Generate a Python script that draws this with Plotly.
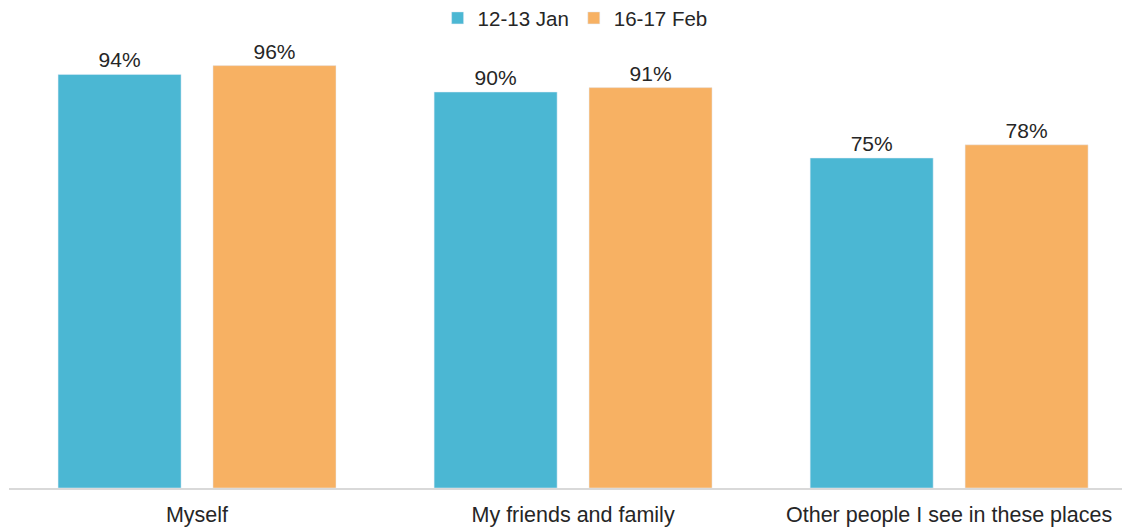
import plotly.graph_objects as go

categories = ["Myself", "My friends and family", "Other people I see in these places"]
jan_values = [94, 90, 75]
feb_values = [96, 91, 78]
series_names = ["12-13 Jan", "16-17 Feb"]

FS = 21
fig = go.Figure()
fig.add_trace(go.Bar(
    x=categories, y=jan_values, name=series_names[0],
    marker=dict(color="#4BB7D3"),
    text=[f"{v}%" for v in jan_values], textposition="outside",
    textfont=dict(size=FS, color="#262626"), cliponaxis=False,
))
fig.add_trace(go.Bar(
    x=categories, y=feb_values, name=series_names[1],
    marker=dict(color="#F7B163"),
    text=[f"{v}%" for v in feb_values], textposition="outside",
    textfont=dict(size=FS, color="#262626"), cliponaxis=False,
))

fig.update_layout(
    width=1122, height=519,
    margin=dict(l=1, r=0, t=40, b=39, autoexpand=False),
    paper_bgcolor="white", plot_bgcolor="white",
    font=dict(family="Liberation Sans, Arial, sans-serif", size=FS, color="#262626"),
    barmode="group", bargap=0.176, bargroupgap=0.206,
    showlegend=True,
    legend=dict(orientation="h", x=0.505, xanchor="center", y=1.068, yanchor="middle",
                font=dict(size=20.5, color="#262626"), itemwidth=30,
                bgcolor="rgba(0,0,0,0)"),
    xaxis=dict(range=[-0.5, 2.481], showline=True, linecolor="#D9D9D9", linewidth=1.5,
               ticks="", showgrid=False, tickfont=dict(size=21.5, color="#262626"),
               ticklabelstandoff=6),
    yaxis=dict(range=[0, 100], visible=False, showgrid=False, zeroline=False),
)

fig.write_html("out.html")
